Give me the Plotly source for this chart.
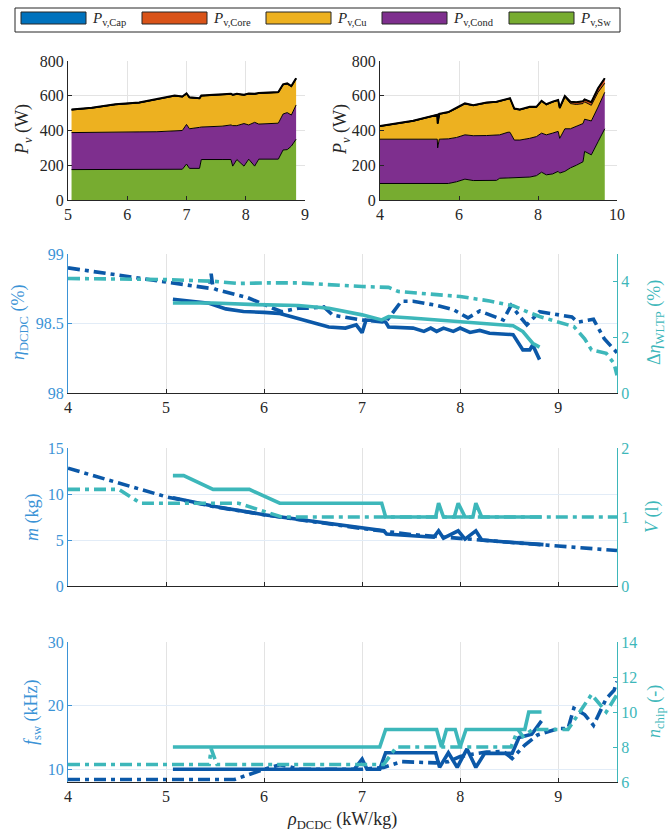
import plotly.graph_objects as go

W, H = 669, 831

# ---------------- loss breakdown, design A ----------------
rho_a = [5.06, 5.4, 5.8, 6.2, 6.5, 6.8, 6.93, 7.0, 7.05, 7.22, 7.25, 7.6, 7.75, 7.78,
         7.85, 7.97, 8.05, 8.15, 8.22, 8.55, 8.63, 8.7, 8.77, 8.85]
sw_a = [175, 175, 175, 175, 175, 175, 177, 207, 182, 182, 233, 233, 233, 195,
        233, 195, 235, 195, 235, 235, 288, 290, 310, 350]
cond_a = [213, 213, 215, 217, 218, 221, 223, 228, 228, 236, 187, 192, 199, 233,
          195, 245, 197, 252, 202, 207, 207, 213, 179, 197]
cu_a = [130, 140, 158, 166, 185, 202, 193, 175, 178, 165, 178, 178, 176, 175,
        180, 163, 178, 161, 176, 176, 168, 165, 164, 151]
core_a = [2, 2, 2, 2, 2, 2, 2, 2, 2, 2, 2, 2, 2, 2, 2, 2, 2, 2, 2, 2, 2, 2, 2, 2]
cap_a = [1, 1, 1, 1, 1, 1, 1, 1, 1, 1, 1, 1, 1, 1, 1, 1, 1, 1, 1, 1, 1, 1, 1, 1]

# ---------------- loss breakdown, design B ----------------
rho_b = [4.0, 4.84, 5.45, 5.46, 5.5, 5.73, 5.94, 6.15, 6.36, 6.7, 6.95, 7.03, 7.24,
         7.29, 7.4, 7.54, 7.79, 7.96, 8.09, 8.21, 8.37, 8.51, 8.55, 8.68, 8.82,
         8.97, 9.14, 9.18, 9.35, 9.52, 9.69]
sw_b = [95, 95, 95, 95, 95, 95, 105, 120, 112, 112, 113, 125, 127, 128, 128, 130,
        132, 140, 160, 145, 150, 165, 155, 165, 185, 200, 220, 280, 260, 335, 410]
cond_b = [255, 255, 255, 205, 255, 257, 255, 255, 258, 259, 259, 250, 263, 262,
          217, 215, 223, 225, 225, 230, 235, 230, 200, 245, 225, 225, 220, 185,
          195, 200, 210]
cu_b = [73, 103, 138, 138, 143, 151, 168, 178, 173, 187, 191, 193, 188, 193, 178,
        173, 178, 168, 183, 173, 178, 178, 173, 182, 145, 125, 115, 100, 90, 85, 52]
core_b = [2, 2, 2, 2, 2, 2, 2, 2, 2, 2, 2, 2, 2, 2, 2, 2, 2, 2, 2, 2, 2, 2, 2, 5,
          10, 12, 13, 13, 17, 22, 28]
cap_b = [1, 1, 1, 1, 1, 1, 1, 1, 1, 1, 1, 1, 1, 1, 1, 1, 1, 1, 1, 1, 1, 1, 1, 1,
         1, 1, 1, 1, 1, 1, 1]

loss_names = ["<i>P</i><sub>v,Cap</sub>", "<i>P</i><sub>v,Core</sub>",
              "<i>P</i><sub>v,Cu</sub>", "<i>P</i><sub>v,Cond</sub>",
              "<i>P</i><sub>v,Sw</sub>"]
loss_colors = ["#0072BD", "#D95319", "#EDB120", "#7E2F8E", "#77AC30"]

# ---------------- efficiency ----------------
eta_a_x = [5.07, 5.44, 5.61, 5.79, 6.0, 6.15, 6.3, 6.49, 6.66, 6.83, 6.94, 7.0,
           7.04, 7.17, 7.24, 7.27, 7.52, 7.63, 7.7, 7.76, 7.83, 7.93, 8.0, 8.1,
           8.2, 8.3, 8.54, 8.64, 8.71, 8.74, 8.81]
eta_a = [98.675, 98.646, 98.605, 98.586, 98.58, 98.573, 98.545, 98.51, 98.475,
         98.467, 98.49, 98.434, 98.525, 98.52, 98.51, 98.475, 98.467, 98.443,
         98.467, 98.443, 98.467, 98.443, 98.467, 98.436, 98.45, 98.43, 98.42,
         98.31, 98.31, 98.345, 98.24]
eta_b_x = [4.0, 5.0, 5.44, 5.46, 5.48, 5.52, 5.83, 6.09, 6.18, 6.35, 6.46, 6.61,
           6.7, 7.0, 7.24, 7.4, 7.52, 7.76, 7.93, 8.08, 8.2, 8.44, 8.52, 8.61,
           8.68, 8.81, 9.14, 9.2, 9.36, 9.47, 9.6]
eta_b = [98.9, 98.795, 98.754, 98.858, 98.754, 98.742, 98.687, 98.61, 98.585,
         98.61, 98.61, 98.62, 98.56, 98.525, 98.51, 98.66, 98.66, 98.63, 98.6,
         98.54, 98.59, 98.525, 98.63, 98.55, 98.49, 98.585, 98.547, 98.51, 98.53,
         98.39, 98.29]
dwltp_a_x = [5.07, 5.48, 5.92, 6.15, 6.35, 6.66, 7.0, 7.2, 7.27, 7.5, 7.76, 8.0,
             8.2, 8.3, 8.54, 8.64, 8.74, 8.81]
dwltp_a = [3.24, 3.24, 3.18, 3.17, 3.15, 3.05, 2.81, 2.63, 2.75, 2.7, 2.63, 2.58,
           2.53, 2.5, 2.42, 2.21, 1.79, 1.65]
dwltp_b_x = [4.0, 5.0, 5.48, 5.74, 6.0, 6.35, 7.0, 7.27, 7.37, 8.0, 8.3, 8.54,
             8.68, 8.81, 9.1, 9.16, 9.27, 9.34, 9.49, 9.57, 9.6]
dwltp_b = [4.12, 4.08, 4.02, 3.94, 3.96, 3.96, 3.83, 3.8, 3.65, 3.47, 3.31, 3.14,
           2.93, 2.75, 2.45, 2.39, 1.95, 1.55, 1.43, 1.06, 0.64]

# ---------------- mass and volume ----------------
m_a_x = [5.07, 5.5, 6.0, 6.5, 7.0, 7.22, 7.25, 7.5, 7.73, 7.78, 7.83, 7.98, 8.05,
         8.16, 8.22, 8.5, 8.85]
m_a = [9.6, 8.65, 7.75, 7.0, 6.25, 6.0, 5.65, 5.5, 5.3, 6.0, 5.2, 6.0, 5.1, 6.0,
       5.0, 4.75, 4.5]
m_b_x = [4.0, 4.5, 5.0, 5.5, 6.0, 6.5, 7.0, 7.5, 8.0, 8.5, 9.0, 9.6]
m_b = [12.8, 11.2, 9.7, 8.6, 7.75, 7.0, 6.25, 5.6, 5.15, 4.75, 4.35, 3.85]
v_a_x = [5.07, 5.18, 5.48, 5.85, 6.16, 7.2, 7.24, 7.75, 7.78, 7.83, 7.94, 7.98,
         8.05, 8.13, 8.16, 8.22, 8.83]
v_a = [1.6, 1.6, 1.4, 1.4, 1.2, 1.2, 1.0, 1.0, 1.2, 1.0, 1.0, 1.2, 1.0, 1.0, 1.2,
       1.0, 1.0]
v_b_x = [4.0, 4.52, 4.74, 5.74, 6.18, 9.6]
v_b = [1.4, 1.4, 1.2, 1.2, 1.0, 1.0]

# ---------------- switching frequency and chip count ----------------
fsw_a_x = [5.07, 6.92, 7.0, 7.05, 7.18, 7.24, 7.75, 7.79, 7.88, 7.97, 8.07, 8.16,
           8.25, 8.53, 8.6, 8.73, 8.83]
fsw_a = [10.0, 10.0, 11.6, 10.0, 10.0, 12.6, 12.6, 10.3, 12.6, 10.3, 13.2, 10.3,
         12.5, 12.5, 15.0, 15.5, 17.6]
fsw_b_x = [4.0, 5.7, 6.0, 6.16, 6.26, 6.35, 7.0, 7.22, 7.4, 7.75, 7.88, 8.0, 8.1,
           8.27, 8.44, 8.53, 8.66, 8.79, 9.0, 9.1, 9.16, 9.27, 9.36, 9.49, 9.57, 9.6]
fsw_b = [8.4, 8.4, 10.0, 10.7, 10.4, 10.0, 10.0, 10.3, 11.2, 11.0, 11.2, 12.0,
         12.3, 12.7, 12.8, 11.7, 13.8, 15.4, 16.4, 16.4, 19.6, 18.6, 16.9, 21.1,
         22.4, 23.8]
nchip_a_x = [5.07, 7.18, 7.24, 7.76, 7.81, 7.86, 7.95, 8.0, 8.06, 8.66, 8.7, 8.83]
nchip_a = [8, 8, 9, 9, 8, 9, 9, 8, 9, 9, 10, 10]
nchip_b_x = [4.0, 5.44, 5.46, 5.52, 7.22, 7.35, 8.52, 8.59, 8.64, 8.74, 9.1, 9.34,
             9.49, 9.6]
nchip_b = [7.0, 7.0, 7.9, 7.0, 7.0, 8.0, 8.0, 9.0, 8.6, 9.0, 9.0, 11.0, 10.0, 11.0]

rho_ticks = [4, 5, 6, 7, 8, 9]

# ---------------- styling ----------------
FONT = '"Liberation Serif", "Times New Roman", "DejaVu Serif", serif'
DARK = "#0b58a8"
TEAL = "#3db7ba"
LBLUE = "#3b93d6"
INK = "#262626"
DD = "12px,5px,4px,5px"
LW = 3.6


def px_x(p):
    return p / W


def px_y(p):
    return 1 - p / H


fig = go.Figure()

# stacked loss areas
for xs, comps, xa, ya in [
    (rho_a, [sw_a, cond_a, cu_a, core_a, cap_a], "x", "y"),
    (rho_b, [sw_b, cond_b, cu_b, core_b, cap_b], "x2", "y2"),
]:
    for vals, name, col, lw in zip(comps, loss_names[::-1], loss_colors[::-1],
                                   [1.0, 1.0, 1.0, 1.2, 2.0]):
        fig.add_trace(go.Scatter(
            x=xs, y=vals, name=name, mode="lines", stackgroup=xa,
            line=dict(color="black", width=lw), fillcolor=col,
            xaxis=xa, yaxis=ya, showlegend=False, hoverinfo="skip"))


def line(x, y, col, dash, xa, ya):
    fig.add_trace(go.Scatter(
        x=x, y=y, mode="lines", xaxis=xa, yaxis=ya, showlegend=False,
        line=dict(color=col, width=LW, dash=dash)))


# efficiency
line(dwltp_b_x, dwltp_b, TEAL, DD, "x3", "y4")
line(dwltp_a_x, dwltp_a, TEAL, "solid", "x3", "y4")
line(eta_b_x, eta_b, DARK, DD, "x3", "y3")
line(eta_a_x, eta_a, DARK, "solid", "x3", "y3")
# mass / volume
line(v_b_x, v_b, TEAL, DD, "x4", "y6")
line(v_a_x, v_a, TEAL, "solid", "x4", "y6")
line(m_b_x, m_b, DARK, DD, "x4", "y5")
line(m_a_x, m_a, DARK, "solid", "x4", "y5")
# switching frequency / chips
line(nchip_b_x, nchip_b, TEAL, DD, "x5", "y8")
line(nchip_a_x, nchip_a, TEAL, "solid", "x5", "y8")
line(fsw_b_x, fsw_b, DARK, DD, "x5", "y7")
line(fsw_a_x, fsw_a, DARK, "solid", "x5", "y7")

TICK = 16
tick_font = dict(family=FONT, size=TICK, color=INK)

top_x = [68, 305]
top2_x = [380, 617]
low_x = [68, 617]
rows = {"top": [61, 200], "eff": [254, 393], "mass": [448, 586], "fsw": [642, 782]}


def dom_x(a):
    return [px_x(a[0]), px_x(a[1])]


def dom_y(a):
    return [px_y(a[1]), px_y(a[0])]


def xaxis(dom, rng, tickvals, anchor, show_labels=True):
    return dict(domain=dom_x(dom), range=rng, tickvals=tickvals, anchor=anchor,
                showline=True, linecolor=INK, linewidth=1, ticks="inside",
                ticklen=4, tickcolor=INK, showgrid=True, gridcolor="#e3e3e3",
                gridwidth=1, zeroline=False, tickfont=tick_font,
                showticklabels=show_labels, automargin=False)


def yaxis_top(anchor):
    return dict(domain=dom_y(rows["top"]), range=[0, 800], tickvals=[0, 200, 400, 600, 800],
                anchor=anchor, showline=True, linecolor=INK, linewidth=1,
                ticks="inside", ticklen=4, tickcolor=INK, showgrid=True,
                gridcolor="#e3e3e3", zeroline=False, tickfont=tick_font, automargin=False)


def yaxis_left(row, rng, tickvals, ticktext, anchor):
    return dict(domain=dom_y(rows[row]), range=rng, tickvals=tickvals, ticktext=ticktext,
                anchor=anchor, showline=True, linecolor=LBLUE, linewidth=1,
                ticks="inside", ticklen=4, tickcolor=LBLUE, showgrid=True,
                gridcolor="#e2ecf7", zeroline=False,
                tickfont=dict(family=FONT, size=TICK, color=LBLUE), automargin=False)


def yaxis_right(row, rng, tickvals, anchor, over):
    return dict(domain=dom_y(rows[row]), range=rng, tickvals=tickvals, anchor=anchor,
                overlaying=over, side="right", showline=True, linecolor=TEAL, linewidth=1,
                ticks="inside", ticklen=4, tickcolor=TEAL, showgrid=False, zeroline=False,
                tickfont=dict(family=FONT, size=TICK, color=TEAL), automargin=False)


layout = dict(
    width=W, height=H, margin=dict(l=0, r=0, t=0, b=0),
    paper_bgcolor="white", plot_bgcolor="white", showlegend=False,
    font=dict(family=FONT, size=15, color=INK),
    xaxis=xaxis(top_x, [5, 9], [5, 6, 7, 8, 9], "y"),
    yaxis=yaxis_top("x"),
    xaxis2=xaxis(top2_x, [4, 10], [4, 6, 8, 10], "y2"),
    yaxis2=yaxis_top("x2"),
    xaxis3=xaxis(low_x, [4, 9.6], rho_ticks, "y3"),
    yaxis3=yaxis_left("eff", [98, 99], [98, 98.5, 99], ["98", "98.5", "99"], "x3"),
    yaxis4=yaxis_right("eff", [0, 5], [0, 2, 4], "x3", "y3"),
    xaxis4=xaxis(low_x, [4, 9.6], rho_ticks, "y5", show_labels=False),
    yaxis5=yaxis_left("mass", [0, 15], [0, 5, 10, 15], ["0", "5", "10", "15"], "x4"),
    yaxis6=yaxis_right("mass", [0, 2], [0, 1, 2], "x4", "y5"),
    xaxis5=xaxis(low_x, [4, 9.6], rho_ticks, "y7"),
    yaxis7=yaxis_left("fsw", [8, 30], [10, 20, 30], ["10", "20", "30"], "x5"),
    yaxis8=yaxis_right("fsw", [6, 14], [6, 8, 10, 12, 14], "x5", "y7"),
)
fig.update_layout(**layout)

# axis titles
ann = []


def title(text, x, y, color, angle=-90, size=18):
    ann.append(dict(text=text, x=px_x(x), y=px_y(y), xref="paper", yref="paper",
                    showarrow=False, textangle=angle, xanchor="center", yanchor="middle",
                    font=dict(family=FONT, size=size, color=color)))


title("<i>P</i><sub><i>v</i></sub> (W)", 24, 130, INK)
title("<i>P</i><sub><i>v</i></sub> (W)", 342, 130, INK)
title("<i>η</i><sub>DCDC</sub> (%)", 19, 323, LBLUE)
title("Δ<i>η</i><sub>WLTP</sub> (%)", 655, 323, TEAL)
title("<i>m</i> (kg)", 32, 517, LBLUE)
title("<i>V</i> (l)", 652, 517, TEAL)
title("<i>f</i><sub>sw</sub> (kHz)", 32, 712, LBLUE)
title("<i>n</i><sub>chip</sub> (-)", 655, 712, TEAL)
title("<i>ρ</i><sub>DCDC</sub> (kW/kg)", 342, 820, INK, angle=0)

# legend box with wide swatches
shapes = [dict(type="rect", xref="paper", yref="paper", x0=px_x(15), x1=px_x(620),
               y0=px_y(32), y1=px_y(8), line=dict(color=INK, width=1),
               fillcolor="white", layer="above")]
sw_left = [21, 142, 266, 382, 509]
for xl, name, col in zip(sw_left, loss_names, loss_colors):
    shapes.append(dict(type="rect", xref="paper", yref="paper", x0=px_x(xl),
                       x1=px_x(xl + 65), y0=px_y(24), y1=px_y(12),
                       line=dict(color=INK, width=1), fillcolor=col, layer="above"))
    ann.append(dict(text=name, x=px_x(xl + 69), y=px_y(19), xref="paper", yref="paper",
                    showarrow=False, xanchor="left", yanchor="middle",
                    font=dict(family=FONT, size=15, color=INK)))

fig.update_layout(annotations=ann, shapes=shapes)
fig.write_html("out.html")
